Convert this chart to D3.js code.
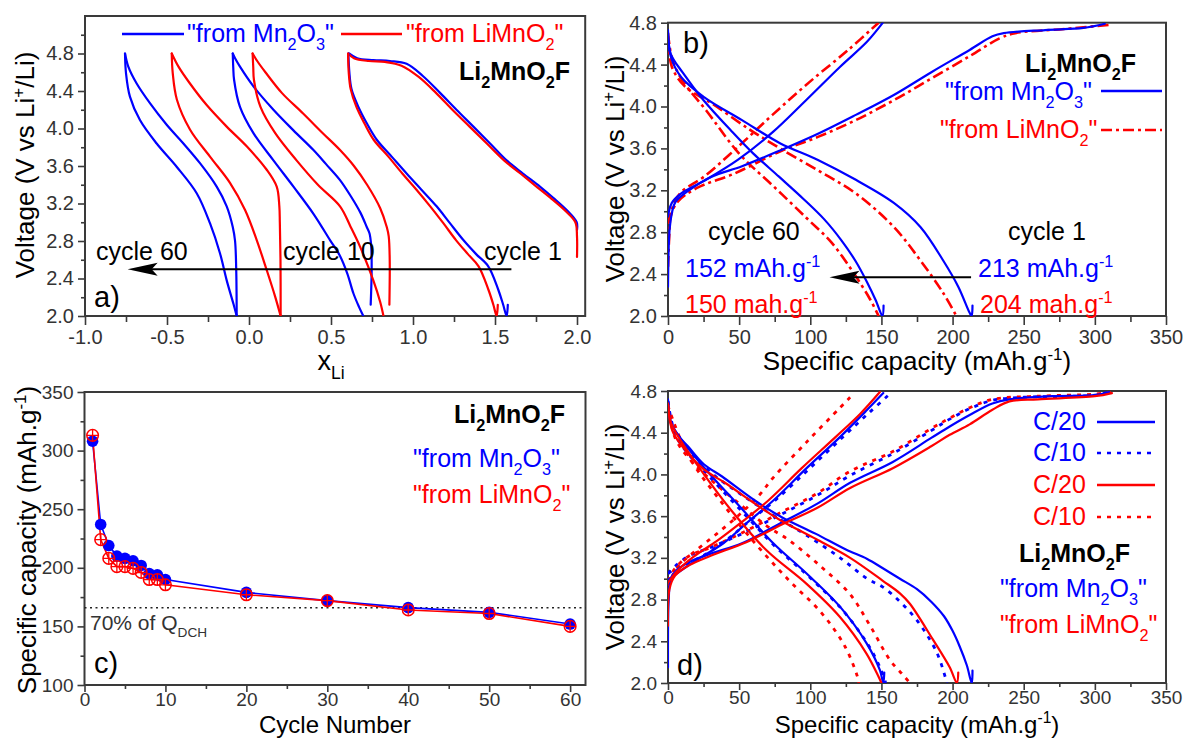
<!DOCTYPE html>
<html><head><meta charset="utf-8">
<script src="https://cdn.jsdelivr.net/npm/d3@7"></script>
<style>body{margin:0;background:#fff} svg{display:block} text{font-family:"Liberation Sans",Arial,sans-serif}</style>
</head><body><svg id="c" width="1186" height="740"></svg>
<script>
// ---------------- DATA ----------------
// Panel a: [x_Li, V]
const aBlueC1Ch = [[2.0,2.92],[1.998,3.0],[1.937,3.13],[1.855,3.26],[1.774,3.38],[1.67,3.52],[1.571,3.66],[1.47,3.84],[1.368,4.02],[1.265,4.2],[1.165,4.38],[1.06,4.56],[0.961,4.69],[0.86,4.72],[0.758,4.73],[0.66,4.75],[0.61,4.8]];
const aRedC1Ch = [[2.0,2.63],[2.0,2.85],[1.99,3.0],[1.93,3.12],[1.845,3.25],[1.76,3.37],[1.655,3.52],[1.555,3.66],[1.45,3.84],[1.345,4.02],[1.24,4.2],[1.14,4.38],[1.035,4.55],[0.93,4.67],[0.83,4.71],[0.73,4.72],[0.64,4.75],[0.605,4.8]];
const aBlueC1Dis = [[0.606,4.8],[0.612,4.6],[0.625,4.42],[0.667,4.23],[0.72,4.05],[0.779,3.88],[0.87,3.7],[0.961,3.52],[1.05,3.35],[1.144,3.17],[1.225,2.99],[1.307,2.81],[1.385,2.66],[1.459,2.53],[1.52,2.28],[1.55,2.12],[1.571,2.0],[1.578,2.12]];
const aRedC1Dis = [[0.604,4.8],[0.608,4.6],[0.62,4.42],[0.655,4.23],[0.705,4.05],[0.76,3.88],[0.85,3.7],[0.935,3.52],[1.02,3.35],[1.105,3.17],[1.185,2.99],[1.262,2.81],[1.335,2.66],[1.4,2.53],[1.46,2.28],[1.49,2.12],[1.51,2.0],[1.517,2.12]];
const aBlueC10Ch = [[0.742,2.12],[0.748,2.5],[0.745,2.75],[0.735,2.88],[0.718,2.95],[0.68,3.1],[0.62,3.28],[0.555,3.45],[0.47,3.62],[0.393,3.77],[0.271,3.98],[0.149,4.2],[0.027,4.45],[-0.055,4.66],[-0.085,4.75],[-0.099,4.8]];
const aBlueC10Dis = [[-0.099,4.8],[-0.096,4.65],[-0.091,4.52],[-0.055,4.23],[0.027,3.95],[0.149,3.66],[0.271,3.38],[0.393,3.09],[0.494,2.81],[0.555,2.64],[0.6,2.45],[0.637,2.24],[0.67,2.1],[0.697,2.0]];
const aRedC10Ch = [[0.856,2.12],[0.858,2.6],[0.852,2.85],[0.84,2.95],[0.8,3.15],[0.72,3.4],[0.64,3.6],[0.555,3.77],[0.45,3.95],[0.33,4.16],[0.2,4.38],[0.1,4.6],[0.05,4.72],[0.022,4.8]];
const aRedC10Dis = [[0.022,4.8],[0.026,4.65],[0.03,4.52],[0.07,4.23],[0.16,3.95],[0.29,3.66],[0.42,3.4],[0.555,3.17],[0.62,2.95],[0.677,2.74],[0.758,2.38],[0.8,2.15],[0.82,2.0]];
const aBlueC60Ch = [[-0.075,2.0],[-0.078,2.5],[-0.085,2.8],[-0.099,2.95],[-0.136,3.17],[-0.197,3.38],[-0.299,3.63],[-0.40,3.84],[-0.502,4.04],[-0.604,4.27],[-0.685,4.48],[-0.736,4.66],[-0.756,4.8]];
const aBlueC60Dis = [[-0.756,4.8],[-0.75,4.59],[-0.726,4.34],[-0.665,4.09],[-0.563,3.84],[-0.44,3.59],[-0.319,3.31],[-0.238,2.99],[-0.177,2.67],[-0.136,2.38],[-0.095,2.13],[-0.075,2.0]];
const aRedC60Ch = [[0.193,2.0],[0.192,2.6],[0.188,3.0],[0.185,3.17],[0.169,3.38],[0.108,3.56],[-0.014,3.81],[-0.136,4.02],[-0.258,4.25],[-0.36,4.48],[-0.43,4.66],[-0.471,4.8]];
const aRedC60Dis = [[-0.471,4.8],[-0.465,4.59],[-0.44,4.31],[-0.36,3.99],[-0.238,3.70],[-0.116,3.42],[-0.024,3.13],[0.047,2.81],[0.108,2.49],[0.159,2.21],[0.193,2.0]];

// Panel b: [capacity mAh/g, V]
const bBlueC1Ch = [[0,2.28],[0.6,2.7],[1.3,2.85],[3,3.0],[5.3,3.09],[14.7,3.2],[30.7,3.33],[52,3.43],[78.7,3.58],[105.4,3.74],[132,3.92],[158.7,4.11],[185.4,4.33],[212,4.54],[228,4.67],[236,4.70],[265,4.73],[292,4.75],[307,4.79]];
const bRedC1Ch = [[0,2.47],[1,2.8],[1.9,2.95],[6.7,3.09],[20,3.22],[46.7,3.36],[78.7,3.57],[105.4,3.71],[132,3.87],[158.7,4.06],[185.4,4.27],[212,4.48],[233,4.65],[244,4.70],[279,4.74],[311,4.78]];
const bBlueC1Dis = [[0,4.73],[1.9,4.48],[9.3,4.28],[25.3,4.09],[52,3.87],[78.7,3.65],[105.4,3.49],[132,3.30],[158.7,3.08],[177.4,2.85],[193.4,2.53],[204,2.28],[212,2.03],[213.4,2.0],[214,2.1]];
const bRedC1Dis = [[0,4.67],[2.7,4.38],[12,4.19],[30.7,4.03],[57.4,3.78],[78.7,3.6],[105.4,3.39],[132,3.17],[158.7,2.85],[177.4,2.53],[193.4,2.22],[202.7,2.0]];
const bBlueC60Ch = [[0,2.95],[2.7,3.08],[9.3,3.17],[25.3,3.29],[49,3.49],[74,3.76],[97,4.06],[121,4.38],[140,4.62],[151,4.8]];
const bRedC60Ch = [[0,2.88],[5.3,3.11],[10.7,3.2],[25.3,3.33],[48,3.60],[73.4,3.92],[100,4.24],[126.7,4.54],[148,4.8]];
const bBlueC60Dis = [[0,4.71],[2,4.5],[10,4.33],[25,4.06],[45,3.76],[60,3.55],[78,3.33],[95,3.12],[110,2.92],[122,2.72],[132,2.52],[140,2.32],[146,2.15],[150.7,2.0],[151.5,2.1]];
const bRedC60Dis = [[0,4.70],[3,4.45],[10,4.25],[27,3.96],[50,3.55],[74,3.24],[97,2.94],[115,2.7],[130,2.42],[142,2.16],[148,2.0]];

// Panel c
const cycles = [1,2,3,4,5,6,7,8,9,10,20,30,40,50,60];
const capMn2O3 = [308,237,219,210,208,206,202,195,194,190,179,172,166,162,152];
const capLiMnO2 = [313,224,208,201,201,199.5,196,190,190,185.5,177,172,164,161,150];
const qdch70 = 166;

// Panel d: [capacity, V]
const dBlueC20Long = [[0,2.15],[0.5,2.8],[2,3.0],[6,3.08],[15,3.16],[30,3.24],[52,3.34],[78.7,3.53],[105,3.72],[128,3.92],[158,4.12],[185,4.35],[198,4.46],[212,4.57],[228,4.68],[240,4.72],[270,4.75],[300,4.76],[310,4.79]];
const dRedC20Long = [[0,2.55],[1,2.9],[5,3.03],[15,3.13],[30,3.22],[55,3.35],[80,3.52],[105,3.68],[128,3.87],[158,4.06],[185,4.27],[198,4.38],[212,4.48],[228,4.62],[240,4.7],[260,4.72],[300,4.75],[312,4.78]];
const dBlueC10Long = [[0,3.05],[5,3.12],[15,3.22],[30,3.3],[55,3.45],[80,3.62],[105,3.8],[128,3.99],[158,4.2],[185,4.42],[198,4.53],[212,4.63],[228,4.71],[250,4.74],[300,4.76],[310,4.79]];
const dRedC10Long = [[0,2.98],[5,3.1],[15,3.22],[30,3.3],[55,3.46],[80,3.64],[105,3.82],[128,4.03],[158,4.22],[185,4.44],[198,4.54],[212,4.64],[228,4.72],[260,4.75],[300,4.77],[312,4.79]];
const dBlueC20Short = [[0,2.99],[6.1,3.05],[20.2,3.18],[38.9,3.34],[55,3.53],[74,3.75],[97.4,4.06],[121,4.36],[140,4.62],[151.3,4.78]];
const dBlueC10Short = [[0,3.05],[6,3.1],[22,3.2],[40,3.36],[57,3.55],[76,3.76],[99.7,4.06],[123,4.36],[142,4.6],[154.9,4.76]];
const dRedC20Short = [[0,2.96],[6.1,3.07],[17.8,3.21],[34.2,3.36],[50.6,3.53],[70.5,3.75],[94,4.06],[117.9,4.36],[135,4.58],[148.9,4.79]];
const dRedC10Short = [[0,2.93],[6.1,3.1],[17.8,3.25],[34.2,3.43],[50.6,3.62],[64.7,3.81],[74,3.97],[97.4,4.31],[120.9,4.64],[128,4.74]];
const dBlueC20DisS = [[0,4.71],[2,4.5],[8,4.36],[27,4.04],[50.6,3.69],[74,3.34],[97.4,3.05],[121,2.73],[139.6,2.38],[149,2.12],[151.3,2.0],[152,2.1]];
const dBlueC10DisS = [[0,4.7],[3,4.45],[10,4.27],[29,3.98],[53,3.63],[76,3.3],[99,3.02],[122,2.71],[140,2.38],[149,2.15],[153,2.0]];
const dRedC20DisS = [[0,4.68],[2,4.5],[6,4.39],[24.8,4.01],[46,3.63],[69.4,3.27],[97.4,2.95],[121,2.63],[139.6,2.28],[148,2.06],[150,2.0]];
const dRedC10DisS = [[0,4.66],[1.4,4.6],[14.3,4.18],[37.8,3.73],[61.2,3.34],[84.6,2.99],[108,2.67],[124.4,2.35],[133.8,2.03],[134,2.0]];
const dBlueC20DisL = [[0,4.72],[2,4.5],[8,4.36],[14,4.27],[25,4.1],[38,3.98],[61,3.75],[80,3.59],[104,3.43],[125,3.28],[140,3.19],[151,3.1],[163,3.0],[175,2.9],[185,2.78],[194,2.64],[200,2.5],[205,2.35],[210,2.17],[213.5,2.0],[214,2.12]];
const dRedC20DisL = [[0,4.68],[3,4.42],[10,4.27],[25,4.05],[40,3.92],[60,3.73],[79,3.56],[104,3.38],[128,3.2],[151,2.98],[163,2.86],[170,2.76],[186,2.42],[198,2.15],[203,2.0],[204,2.1]];
const dBlueC10DisL = [[0,4.7],[5,4.4],[15,4.22],[30,4.02],[50,3.82],[75,3.6],[97,3.42],[121,3.2],[140,3.0],[151,2.92],[163,2.78],[175,2.6],[189,2.29],[196,2.0]];
const dRedC10DisL = [[0,4.66],[5,4.35],[15,4.15],[30,3.95],[50,3.72],[70,3.5],[85,3.37],[108,3.11],[128,2.85],[142,2.55],[156,2.22],[165,2.08],[170,2.0]];

// ---------------- DRAW ----------------
const BLUE = '#0000ff', RED = '#ff0000', AX = '#3a3a3a';
const svg = d3.select('#c');

function rich(g, x, y, parts, o) {
  const t = g.append('text').attr('x', x).attr('y', y).attr('font-size', o.size)
    .attr('fill', o.color || '#000').attr('font-weight', o.weight || 'normal')
    .attr('text-anchor', o.anchor || 'start');
  if (o.rotate) t.attr('transform', `rotate(-90,${x},${y})`);
  let cur = 0;
  parts.forEach(p => {
    const [s, m] = Array.isArray(p) ? p : [p, ''];
    const off = m === 'sub' ? o.size * 0.32 : m === 'sup' ? -o.size * 0.4 : 0;
    t.append('tspan').attr('dy', off - cur).attr('font-size', m ? o.size * 0.65 : o.size).text(s);
    cur = off;
  });
  return t;
}

function panel(id, x, y, xt, yt, tk) {
  const g = svg.append('g');
  const [x0, x1] = x.range(), [y0, y1] = y.range();
  g.append('clipPath').attr('id', 'clip' + id).append('rect')
    .attr('x', x0).attr('y', y1).attr('width', x1 - x0).attr('height', y0 - y1);
  const ax = g.append('g').attr('transform', `translate(0,${y0})`)
    .call(d3.axisBottom(x).tickValues(xt.major).tickSize(tk.size).tickPadding(tk.pad).tickFormat(xt.fmt));
  const axm = g.append('g').attr('transform', `translate(0,${y0})`)
    .call(d3.axisBottom(x).tickValues(xt.minor).tickSize(tk.size - 3).tickFormat(''));
  const ay = g.append('g').attr('transform', `translate(${x0},0)`)
    .call(d3.axisLeft(y).tickValues(yt.major).tickSize(7).tickPadding(4).tickFormat(yt.fmt));
  const aym = g.append('g').attr('transform', `translate(${x0},0)`)
    .call(d3.axisLeft(y).tickValues(yt.minor).tickSize(4).tickFormat(''));
  [ax, axm, ay, aym].forEach(a => {
    a.select('.domain').remove();
    a.selectAll('line').attr('stroke', AX).attr('stroke-width', 1.6);
    a.selectAll('text').attr('font-size', tk.font).attr('fill', '#333')
      .attr('font-family', '"Liberation Sans",Arial,sans-serif');
  });
  g.append('rect').attr('x', x0).attr('y', y1).attr('width', x1 - x0).attr('height', y0 - y1)
    .attr('fill', 'none').attr('stroke', AX).attr('stroke-width', 2);
  const plot = g.append('g').attr('clip-path', `url(#clip${id})`);
  return {g, plot};
}

function curve(plot, x, y, data, color, dash, w) {
  const line = d3.line().x(d => x(d[0])).y(d => y(d[1])).curve(d3.curveCatmullRom.alpha(0.5));
  plot.append('path').attr('d', line(data)).attr('fill', 'none').attr('stroke', color)
    .attr('stroke-width', w || 2.2).attr('stroke-dasharray', dash || null)
    .attr('stroke-linejoin', 'round').attr('stroke-linecap', dash ? 'butt' : 'round');
}

function arrow(g, xFrom, xTip, yy) {
  g.append('line').attr('x1', xFrom).attr('x2', xTip + 20).attr('y1', yy).attr('y2', yy)
    .attr('stroke', '#000').attr('stroke-width', 2);
  g.append('path').attr('d', `M${xTip},${yy} L${xTip + 30},${yy - 6.5} L${xTip + 24},${yy} L${xTip + 30},${yy + 6.5} Z`)
    .attr('fill', '#000');
}

const f1 = d => d3.format('.1f')(d).replace('\u2212', '-');
const f0 = d => String(d);
const range = (a, b, s) => d3.range(a, b + s / 2, s).map(v => +v.toFixed(3));
const TOP = {size: 9, pad: 5, font: 20};
const BOT = {size: 7, pad: 1, font: 19};

// ---- Panel a ----
{
  const x = d3.scaleLinear().domain([-1, 2.05]).range([85, 585.2]);
  const y = d3.scaleLinear().domain([2, 5.2]).range([316, 16]);
  const {g, plot} = panel('a', x, y,
    {major: range(-1, 2, 0.5), minor: range(-0.75, 1.75, 0.5), fmt: f1},
    {major: range(2, 4.8, 0.4), minor: range(2.2, 5.0, 0.4), fmt: f1}, TOP);
  [[aBlueC1Ch, BLUE], [aRedC1Ch, RED], [aBlueC1Dis, BLUE], [aRedC1Dis, RED],
   [aBlueC10Ch, BLUE], [aBlueC10Dis, BLUE], [aRedC10Ch, RED], [aRedC10Dis, RED],
   [aBlueC60Ch, BLUE], [aBlueC60Dis, BLUE], [aRedC60Ch, RED], [aRedC60Dis, RED]]
    .forEach(([d, c]) => curve(plot, x, y, d, c));
  g.append('line').attr('x1', 122).attr('x2', 184).attr('y1', 34).attr('y2', 34).attr('stroke', BLUE).attr('stroke-width', 2.5);
  rich(g, 187, 42, ['"from Mn', ['2', 'sub'], 'O', ['3', 'sub'], '"'], {size: 25, color: BLUE});
  g.append('line').attr('x1', 341).attr('x2', 402).attr('y1', 34).attr('y2', 34).attr('stroke', RED).attr('stroke-width', 2.5);
  rich(g, 406, 42, ['"from LiMnO', ['2', 'sub'], '"'], {size: 25, color: RED});
  rich(g, 459, 80, ['Li', ['2', 'sub'], 'MnO', ['2', 'sub'], 'F'], {size: 25, weight: 'bold'});
  rich(g, 96, 260, ['cycle 60'], {size: 25});
  rich(g, 283, 260, ['cycle 10'], {size: 25});
  rich(g, 484, 260, ['cycle 1'], {size: 25});
  arrow(g, x(1.6), x(-0.74), y(2.5));
  rich(g, 94, 307, ['a)'], {size: 29});
  rich(g, 34, 165, ['Voltage (V vs Li', ['+', 'sup'], '/Li)'], {size: 26, rotate: true, anchor: 'middle'});
  rich(g, 331, 370, ['x', ['Li', 'sub']], {size: 27, anchor: 'middle'});
}

// ---- Panel b ----
{
  const x = d3.scaleLinear().domain([0, 350]).range([668, 1166]);
  const y = d3.scaleLinear().domain([2, 4.8]).range([316, 22.7]);
  const {g, plot} = panel('b', x, y,
    {major: range(0, 350, 50), minor: range(25, 325, 50), fmt: f0},
    {major: range(2, 4.8, 0.4), minor: range(2.2, 4.6, 0.4), fmt: f1}, TOP);
  const DD = '11,4,3,4';
  curve(plot, x, y, bRedC1Ch, RED, DD, 2.6);
  curve(plot, x, y, bRedC1Dis, RED, DD, 2.6);
  curve(plot, x, y, bRedC60Ch, RED, DD, 2.6);
  curve(plot, x, y, bRedC60Dis, RED, DD, 2.6);
  curve(plot, x, y, bBlueC1Ch, BLUE);
  curve(plot, x, y, bBlueC1Dis, BLUE);
  curve(plot, x, y, bBlueC60Ch, BLUE);
  curve(plot, x, y, bBlueC60Dis, BLUE);
  rich(g, 683, 53, ['b)'], {size: 29});
  rich(g, 1025, 72, ['Li', ['2', 'sub'], 'MnO', ['2', 'sub'], 'F'], {size: 25, weight: 'bold'});
  rich(g, 945, 100, ['"from Mn', ['2', 'sub'], 'O', ['3', 'sub'], '"'], {size: 25, color: BLUE});
  g.append('line').attr('x1', 1101).attr('x2', 1162).attr('y1', 91).attr('y2', 91).attr('stroke', BLUE).attr('stroke-width', 2.5);
  rich(g, 940, 138, ['"from LiMnO', ['2', 'sub'], '"'], {size: 25, color: RED});
  g.append('line').attr('x1', 1101).attr('x2', 1162).attr('y1', 130).attr('y2', 130).attr('stroke', RED).attr('stroke-width', 2.6).attr('stroke-dasharray', DD);
  rich(g, 708, 240, ['cycle 60'], {size: 25});
  rich(g, 685, 277, ['152 mAh.g', ['-1', 'sup']], {size: 25, color: BLUE});
  rich(g, 685, 313, ['150 mah.g', ['-1', 'sup']], {size: 25, color: RED});
  rich(g, 1008, 240, ['cycle 1'], {size: 25});
  rich(g, 978, 277, ['213 mAh.g', ['-1', 'sup']], {size: 25, color: BLUE});
  rich(g, 980, 313, ['204 mah.g', ['-1', 'sup']], {size: 25, color: RED});
  arrow(g, x(213), x(113.5), y(2.37));
  rich(g, 624, 169, ['Voltage (V vs Li', ['+', 'sup'], '/Li)'], {size: 26, rotate: true, anchor: 'middle'});
  rich(g, 917, 370, ['Specific capacity (mAh.g', ['-1', 'sup'], ')'], {size: 26, anchor: 'middle'});
}

// ---- Panel c ----
{
  const x = d3.scaleLinear().domain([0, 61.9]).range([84.5, 585.5]);
  const y = d3.scaleLinear().domain([100, 350]).range([685, 392]);
  const {g, plot} = panel('c', x, y,
    {major: range(0, 60, 10), minor: range(5, 55, 10), fmt: f0},
    {major: range(100, 350, 50), minor: range(125, 325, 50), fmt: f0}, BOT);
  g.append('line').attr('x1', x(0)).attr('x2', 585.5).attr('y1', y(qdch70)).attr('y2', y(qdch70))
    .attr('stroke', '#222').attr('stroke-width', 1.5).attr('stroke-dasharray', '2,3.5');
  const blue = cycles.map((c, i) => [c, capMn2O3[i]]);
  const red = cycles.map((c, i) => [c, capLiMnO2[i]]);
  const ln = d3.line().x(d => x(d[0])).y(d => y(d[1]));
  g.append('path').attr('d', ln(blue)).attr('fill', 'none').attr('stroke', BLUE).attr('stroke-width', 1.6);
  g.append('path').attr('d', ln(red)).attr('fill', 'none').attr('stroke', RED).attr('stroke-width', 1.6);
  g.selectAll('circle.b').data(blue).enter().append('circle').attr('cx', d => x(d[0])).attr('cy', d => y(d[1]))
    .attr('r', 5.8).attr('fill', BLUE);
  const rg = g.selectAll('g.r').data(red).enter().append('g').attr('transform', d => `translate(${x(d[0])},${y(d[1])})`);
  rg.append('circle').attr('r', 5.8).attr('fill', 'none').attr('stroke', RED).attr('stroke-width', 1.5);
  rg.append('path').attr('d', 'M-5.8,0H5.8M0,-5.8V5.8').attr('stroke', RED).attr('stroke-width', 1.3);
  rich(g, 454, 423, ['Li', ['2', 'sub'], 'MnO', ['2', 'sub'], 'F'], {size: 25, weight: 'bold'});
  rich(g, 413, 467, ['"from Mn', ['2', 'sub'], 'O', ['3', 'sub'], '"'], {size: 25, color: BLUE});
  rich(g, 413, 503, ['"from LiMnO', ['2', 'sub'], '"'], {size: 25, color: RED});
  rich(g, 90, 630, ['70% of Q', ['DCH', 'sub']], {size: 21, color: '#333'});
  rich(g, 94, 673, ['c)'], {size: 29});
  rich(g, 36, 540, ['Specific capacity (mAh.g', ['-1', 'sup'], ')'], {size: 26, rotate: true, anchor: 'middle'});
  rich(g, 335, 733, ['Cycle Number'], {size: 24, anchor: 'middle'});
}

// ---- Panel d ----
{
  const x = d3.scaleLinear().domain([0, 350]).range([668, 1166]);
  const y = d3.scaleLinear().domain([2, 4.8]).range([683, 391]);
  const {g, plot} = panel('d', x, y,
    {major: range(0, 350, 50), minor: range(25, 325, 50), fmt: f0},
    {major: range(2, 4.8, 0.4), minor: range(2.2, 4.6, 0.4), fmt: f1}, BOT);
  const DOT = '4,6';
  [dBlueC10Long, dBlueC10Short, dBlueC10DisS, dBlueC10DisL].forEach(d => curve(plot, x, y, d, BLUE, DOT, 2.8));
  [dRedC10Long, dRedC10Short, dRedC10DisS, dRedC10DisL].forEach(d => curve(plot, x, y, d, RED, DOT, 2.8));
  [dBlueC20Long, dBlueC20Short, dBlueC20DisS, dBlueC20DisL].forEach(d => curve(plot, x, y, d, BLUE));
  [dRedC20Long, dRedC20Short, dRedC20DisS, dRedC20DisL].forEach(d => curve(plot, x, y, d, RED));
  const leg = [['C/20', BLUE, null, 430], ['C/10', BLUE, DOT, 461], ['C/20', RED, null, 493], ['C/10', RED, DOT, 525]];
  leg.forEach(([t, c, da, by]) => {
    rich(g, 1033, by, [t], {size: 25, color: c});
    g.append('line').attr('x1', 1097).attr('x2', 1155).attr('y1', by - 8).attr('y2', by - 8)
      .attr('stroke', c).attr('stroke-width', 2.6).attr('stroke-dasharray', da);
  });
  rich(g, 1019, 562, ['Li', ['2', 'sub'], 'MnO', ['2', 'sub'], 'F'], {size: 25, weight: 'bold'});
  rich(g, 1000, 597, ['"from Mn', ['2', 'sub'], 'O', ['3', 'sub'], '"'], {size: 25, color: BLUE});
  rich(g, 1000, 633, ['"from LiMnO', ['2', 'sub'], '"'], {size: 25, color: RED});
  rich(g, 677, 675, ['d)'], {size: 29});
  rich(g, 624, 537, ['Voltage (V vs Li', ['+', 'sup'], '/Li)'], {size: 26, rotate: true, anchor: 'middle'});
  rich(g, 917, 733, ['Specific capacity (mAh.g', ['-1', 'sup'], ')'], {size: 24, anchor: 'middle'});
}
</script></body></html>
